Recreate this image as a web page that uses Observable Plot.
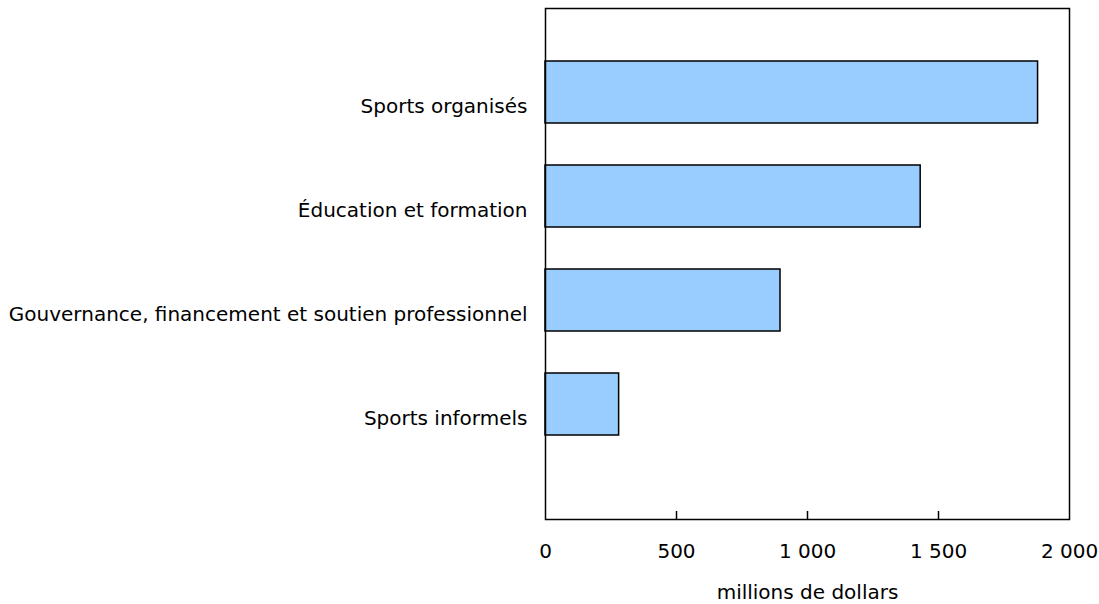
<!DOCTYPE html>
<html>
<head>
<meta charset="utf-8">
<script src="https://cdn.jsdelivr.net/npm/d3@7"></script>
<script src="https://cdn.jsdelivr.net/npm/@observablehq/plot@0.6"></script>
<style>
  body { margin: 0; background: #fff; }
  #chart svg { display: block; }
  #chart svg text { font-family: Verdana, "DejaVu Sans", sans-serif !important; font-size: 20px !important; fill: #000; }
</style>
</head>
<body>
<div id="chart"></div>
<script>
const categories = [
  "Sports organisés",
  "Éducation et formation",
  "Gouvernance, financement et soutien professionnel",
  "Sports informels"
];
const values = [1880, 1432, 897, 281];
const xTicks = [0, 500, 1000, 1500, 2000];
const innerTicks = [500, 1000, 1500];
const xLabel = "millions de dollars";

const data = categories.map((c, i) => ({category: c, value: values[i]}));
const fmt = d => d3.format(",")(d).replace(/,/g, " ");

const chart = Plot.plot({
  width: 1099,
  height: 604,
  marginTop: 8,
  marginBottom: 85,
  marginLeft: 545,
  marginRight: 30,
  style: {fontFamily: "Verdana, 'DejaVu Sans', sans-serif", fontSize: "20px", color: "#000", background: "#fff"},
  x: {domain: [0, 2000]},
  y: {domain: categories, range: [40.5, 456.5], paddingInner: 0.4, paddingOuter: 0.2},
  marks: [
    Plot.barX(data, {y: "category", x: "value", fill: "#99ccff", stroke: "#000", strokeWidth: 1.5}),
    Plot.frame({stroke: "#000", strokeWidth: 1.5}),
    Plot.ruleX(innerTicks, {stroke: "#000", strokeWidth: 1.5, insetTop: 503}),
    Plot.axisY({tickSize: 0, tickPadding: 18, fontSize: 20, dy: 14, label: null}),
    Plot.axisX({ticks: xTicks, tickFormat: fmt, tickSize: 0, tickPadding: 24, fontSize: 20,
      label: xLabel, labelAnchor: "center", labelOffset: 79, labelArrow: "none"})
  ]
});
document.getElementById("chart").append(chart);
</script>
</body>
</html>
